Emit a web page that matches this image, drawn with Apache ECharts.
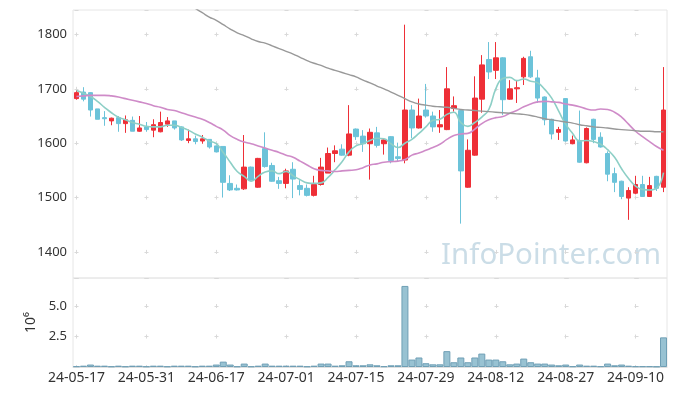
<!DOCTYPE html>
<html><head><meta charset="utf-8">
<script src="https://cdn.jsdelivr.net/npm/echarts@6/dist/echarts.min.js"></script>
<style>html,body{margin:0;padding:0;background:#fff}#c{width:677px;height:396px}</style>
</head><body><div id="c"></div>
<script>
const dates=['24-05-17','24-05-20','24-05-21','24-05-22','24-05-23','24-05-24','24-05-27','24-05-28','24-05-29','24-05-30','24-05-31','24-06-03','24-06-04','24-06-05','24-06-07','24-06-10','24-06-11','24-06-12','24-06-13','24-06-14','24-06-17','24-06-18','24-06-19','24-06-20','24-06-21','24-06-24','24-06-25','24-06-26','24-06-27','24-06-28','24-07-01','24-07-02','24-07-03','24-07-04','24-07-05','24-07-08','24-07-09','24-07-10','24-07-11','24-07-12','24-07-15','24-07-16','24-07-17','24-07-18','24-07-19','24-07-22','24-07-23','24-07-24','24-07-25','24-07-26','24-07-29','24-07-30','24-07-31','24-08-01','24-08-02','24-08-05','24-08-06','24-08-07','24-08-08','24-08-09','24-08-12','24-08-13','24-08-14','24-08-16','24-08-19','24-08-20','24-08-21','24-08-22','24-08-23','24-08-26','24-08-27','24-08-28','24-08-29','24-08-30','24-09-02','24-09-03','24-09-04','24-09-05','24-09-06','24-09-09','24-09-10','24-09-11','24-09-12','24-09-13','24-09-19'];
const opens=[1682,1694,1693,1663,1647,1641,1647,1636,1642,1622,1630,1624,1621,1635,1641,1630,1605,1608,1604,1607,1595,1594,1526,1517,1516,1556,1519,1590,1559,1531,1526,1552,1522,1517,1504,1524,1545,1581,1589,1578,1626,1613,1599,1619,1599,1612,1575,1569,1661,1628,1661,1650,1630,1625,1664,1660,1519,1578,1681,1754,1734,1757,1681,1700,1722,1759,1720,1685,1644,1620,1682,1599,1605,1564,1644,1611,1581,1544,1530,1499,1508,1524,1502,1539,1519];
const closes=[1693,1681,1661,1644,1645,1646,1636,1643,1622,1628,1625,1634,1638,1641,1628,1606,1608,1603,1608,1593,1584,1528,1514,1514,1556,1532,1572,1557,1530,1526,1549,1534,1515,1504,1524,1556,1581,1586,1578,1617,1612,1599,1620,1596,1606,1568,1572,1661,1628,1650,1650,1630,1634,1700,1669,1549,1587,1683,1744,1731,1757,1680,1700,1702,1756,1722,1683,1643,1617,1625,1604,1606,1565,1627,1607,1593,1543,1528,1502,1513,1524,1502,1522,1517,1661];
const lows=[1680,1677,1649,1644,1632,1633,1621,1619,1622,1621,1621,1611,1620,1630,1625,1604,1600,1598,1599,1590,1583,1500,1512,1513,1514,1530,1518,1555,1529,1516,1517,1499,1504,1502,1502,1522,1545,1565,1577,1576,1606,1584,1533,1592,1579,1563,1566,1563,1609,1627,1647,1621,1619,1624,1658,1452,1518,1577,1656,1718,1718,1652,1680,1674,1707,1720,1674,1633,1607,1606,1603,1598,1564,1563,1600,1592,1530,1510,1497,1459,1506,1501,1501,1512,1510];
const highs=[1697,1703,1694,1663,1659,1647,1650,1651,1649,1650,1639,1644,1658,1648,1641,1631,1625,1614,1615,1607,1596,1594,1541,1524,1615,1557,1573,1620,1564,1538,1553,1565,1532,1524,1540,1573,1592,1596,1598,1670,1627,1624,1627,1630,1607,1613,1601,1818,1670,1682,1709,1658,1661,1740,1686,1661,1607,1723,1762,1786,1786,1758,1716,1715,1759,1770,1735,1686,1645,1630,1683,1614,1660,1629,1645,1620,1585,1555,1531,1519,1540,1540,1538,1540,1740];
const maShort=[1697,1692,1686,1677,1666,1656,1648,1643,1638,1635,1631,1630,1630,1633,1633,1629,1624,1617,1611,1604,1599,1583,1565,1548,1539,1530,1539,1547,1549,1544,1548,1540,1533,1527,1526,1527,1537,1551,1566,1584,1595,1599,1605,1609,1608,1599,1592,1600,1607,1618,1630,1642,1644,1653,1657,1638,1631,1638,1648,1662,1700,1719,1721,1715,1718,1714,1711,1699,1683,1659,1635,1618,1604,1605,1603,1598,1588,1574,1553,1535,1521,1515,1514,1517,1546];
const maMid=[1686,1687,1688,1688,1688,1687,1685,1682,1679,1676,1673,1669,1666,1662,1660,1656,1652,1648,1644,1638,1631,1624,1614,1607,1602,1599,1595,1591,1587,1583,1578,1574,1567,1560,1553,1550,1549,1548,1549,1550,1551,1555,1560,1562,1565,1566,1567,1570,1578,1582,1587,1592,1598,1607,1614,1617,1618,1626,1636,1643,1647,1649,1655,1660,1667,1672,1676,1677,1676,1675,1672,1670,1667,1663,1661,1663,1662,1657,1648,1635,1622,1612,1603,1594,1587];
const maLong=[null,null,null,null,null,null,null,null,null,null,null,null,null,null,null,null,1856,1848,1840,1832,1826,1818,1810,1803,1798,1792,1787,1784,1779,1774,1769,1764,1758,1752,1747,1743,1738,1734,1730,1726,1722,1716,1711,1705,1700,1694,1688,1682,1676,1672,1670,1668,1667,1666,1664,1662,1661,1660,1659,1658,1657,1656,1655,1654,1653,1651,1648,1645,1643,1641,1639,1637,1634,1632,1630,1629,1628,1626,1625,1624,1623,1622,1622,1621,1621];
const volumes=[0.06,0.11,0.2,0.11,0.11,0.05,0.11,0.05,0.11,0.11,0.05,0.11,0.11,0.05,0.11,0.11,0.11,0.05,0.11,0.11,0.2,0.44,0.2,0.05,0.28,0.05,0.11,0.28,0.11,0.11,0.11,0.11,0.11,0.05,0.11,0.28,0.28,0.11,0.14,0.47,0.14,0.14,0.22,0.14,0.06,0.14,0.14,6.65,0.61,0.78,0.31,0.22,0.22,1.3,0.39,0.78,0.39,0.78,1.1,0.61,0.61,0.47,0.22,0.28,0.69,0.39,0.28,0.28,0.2,0.14,0.2,0.06,0.2,0.11,0.11,0.06,0.28,0.14,0.2,0.11,0.06,0.06,0.06,0.04,2.43];
const watermark='InfoPointer.com';
const volumeUnit='10⁶';

const candles=dates.map((d,i)=>[opens[i],closes[i],lows[i],highs[i]]);
const FONT='"Noto Sans", "DejaVu Sans", sans-serif';
const RED='#ee2f37', BLUE='#6cc3d9';
const dashH={color:'#d9d9d9',width:1,type:[4,66],dashOffset:68.5};

const chart=echarts.init(document.getElementById('c'),null,{renderer:'canvas'});
chart.setOption({
  animation:false,
  backgroundColor:'#fff',
  textStyle:{fontFamily:FONT},
  grid:[
    {left:73,right:10,top:10,height:268,show:true,borderColor:'#e6e6e6',borderWidth:1},
    {left:73,right:10,top:278,height:89,show:true,borderColor:'#e6e6e6',borderWidth:1}
  ],
  xAxis:[
    {type:'category',gridIndex:0,data:dates,boundaryGap:true,
     axisLine:{show:false},axisTick:{show:false},axisLabel:{show:false},
     splitLine:{show:true,interval:9,alignWithLabel:true,lineStyle:{color:'#d9d9d9',width:1,type:[4,50.36],dashOffset:31.9}}},
    {type:'category',gridIndex:1,data:dates,boundaryGap:true,
     axisLine:{show:true,lineStyle:{color:'#e0e0e0'}},axisTick:{show:false},
     axisLabel:{interval:9,fontSize:14,color:'#333',margin:4,fontFamily:FONT},
     splitLine:{show:true,interval:9,alignWithLabel:true,lineStyle:{color:'#d9d9d9',width:1,type:[4,26.48],dashOffset:4.44}}}
  ],
  yAxis:[
    {type:'value',gridIndex:0,min:1352,max:1845,scale:true,
     axisLine:{show:false},axisTick:{show:false},
     axisLabel:{fontSize:13,color:'#333',margin:6,showMinLabel:false,showMaxLabel:false,fontFamily:FONT,
       formatter:v=>String(v)},
     splitLine:{show:true,lineStyle:dashH}},
    {type:'value',gridIndex:1,min:0,max:7.3,interval:2.5,
     name:volumeUnit,nameLocation:'middle',nameRotate:90,nameGap:33,
     nameTextStyle:{fontSize:14,color:'#333',fontFamily:FONT},
     axisLine:{show:false},axisTick:{show:false},
     axisLabel:{fontSize:13,color:'#333',margin:6,showMinLabel:false,showMaxLabel:false,fontFamily:FONT,
       formatter:v=>v.toFixed(1)},
     splitLine:{show:true,lineStyle:dashH}}
  ],
  graphic:[{type:'text',left:441,top:241,z:0,silent:true,
    style:{text:watermark,font:'29.5px "Noto Sans"',fill:'#cbdde7'}}],
  series:[
    {type:'candlestick',xAxisIndex:0,yAxisIndex:0,data:candles,barWidth:5,
     itemStyle:{color:RED,color0:BLUE,borderColor:RED,borderColor0:BLUE,borderWidth:1}},
    {type:'line',xAxisIndex:0,yAxisIndex:0,data:maShort,showSymbol:false,smooth:true,
     lineStyle:{color:'#8dcfc6',width:1.6}},
    {type:'line',xAxisIndex:0,yAxisIndex:0,data:maMid,showSymbol:false,smooth:true,
     lineStyle:{color:'#cf8bc8',width:1.6}},
    {type:'line',xAxisIndex:0,yAxisIndex:0,data:maLong,showSymbol:false,smooth:true,
     lineStyle:{color:'#999999',width:1.4}},
    {type:'bar',xAxisIndex:1,yAxisIndex:1,data:volumes,barCategoryGap:'0%',
     itemStyle:{color:'#98c2d2',borderColor:'#6f9fb5',borderWidth:1}}
  ]
});
</script></body></html>
